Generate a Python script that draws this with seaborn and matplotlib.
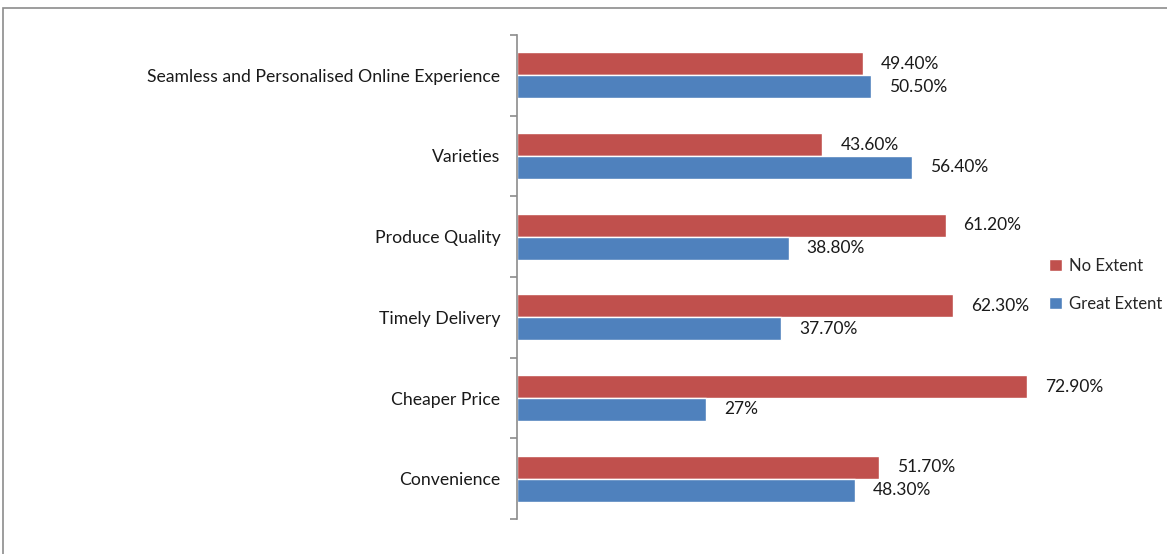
import matplotlib
matplotlib.use("Agg")
import matplotlib.pyplot as plt
from matplotlib.patches import Rectangle
import pandas as pd
import seaborn as sns

categories = [
    "Seamless and Personalised Online Experience",
    "Varieties",
    "Produce Quality",
    "Timely Delivery",
    "Cheaper Price",
    "Convenience",
]
no_extent = [49.4, 43.6, 61.2, 62.3, 72.9, 51.7]
great_extent = [50.5, 56.4, 38.8, 37.7, 27.0, 48.3]
no_labels = ["49.40%", "43.60%", "61.20%", "62.30%", "72.90%", "51.70%"]
great_labels = ["50.50%", "56.40%", "38.80%", "37.70%", "27%", "48.30%"]
series = ["No Extent", "Great Extent"]
colors = {"No Extent": "#C0504D", "Great Extent": "#4F81BD"}

df = pd.DataFrame({
    "category": categories * 2,
    "value": no_extent + great_extent,
    "series": [series[0]] * len(categories) + [series[1]] * len(categories),
})

sns.set_theme(style="white")
plt.rcParams["font.family"] = ["Lato", "DejaVu Sans"]

fig = plt.figure(figsize=(11.67, 5.54), dpi=100)
ax = fig.add_axes([517 / 1167, 35 / 554, 0.45, 484 / 554])

sns.barplot(data=df, y="category", x="value", hue="series", order=categories,
            hue_order=series, palette=colors, orient="h", width=0.57,
            saturation=1, ax=ax, legend=True)

# data labels next to each bar
for cont, labels in zip(ax.containers, [no_labels, great_labels]):
    ax.bar_label(cont, labels=labels, padding=13, fontsize=12.5, color="#1a1a1a")

ax.set_xlim(0, 75)
ax.set_ylim(len(categories) - 0.5, -0.5)
ax.set_xlabel("")
ax.set_ylabel("")
ax.set_xticks([])
for s in ["top", "right", "bottom"]:
    ax.spines[s].set_visible(False)
ax.spines["left"].set_color("#8c8c8c")
ax.spines["left"].set_linewidth(1.2)

# category labels at centers, tick marks between categories
ax.tick_params(axis="y", which="major", length=0, pad=12, labelsize=12.7, labelcolor="#1a1a1a")
ax.set_yticks([i - 0.5 for i in range(len(categories) + 1)], minor=True)
ax.tick_params(axis="y", which="minor", length=5, width=1.2, color="#8c8c8c", left=True)

handles, labels = ax.get_legend_handles_labels()
ax.get_legend().remove()
fig.legend(handles, labels, loc="center left", bbox_to_anchor=(1034 / 1167, 1 - 285 / 554),
           frameon=False, fontsize=12, handlelength=0.75, handleheight=0.75,
           handletextpad=0.45, labelspacing=1.3)

fig.add_artist(Rectangle((3 / 1167, -0.1), 1.2, (554 - 8) / 554 + 0.1,
                         transform=fig.transFigure, fill=False,
                         edgecolor="#8c8c8c", linewidth=1.2))

fig.savefig("out.png", dpi=100)
